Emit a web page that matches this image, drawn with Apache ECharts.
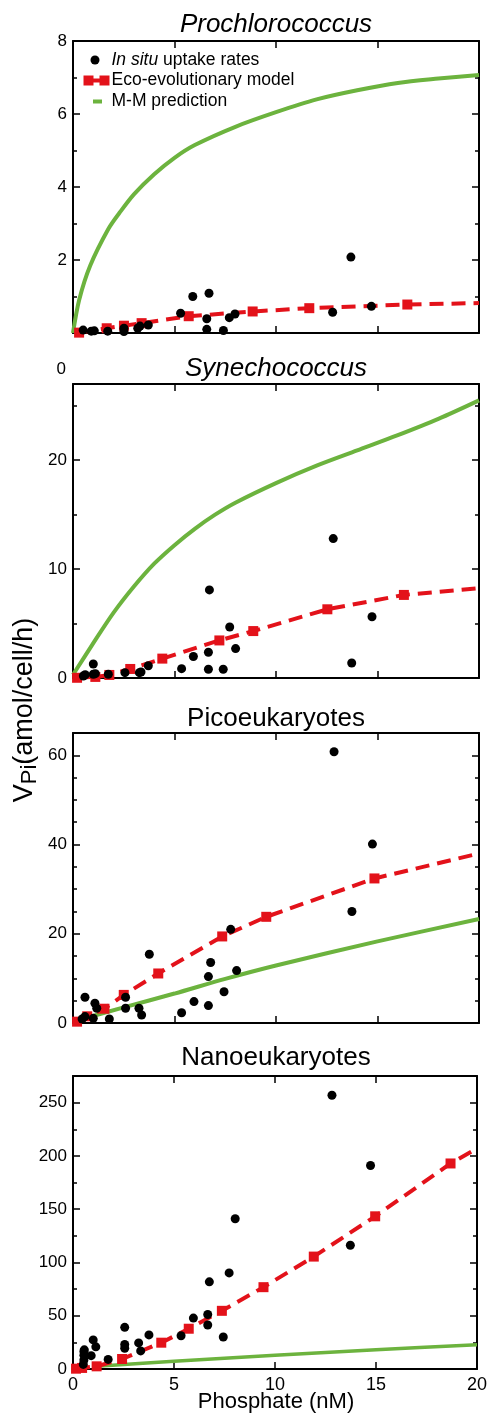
<!DOCTYPE html>
<html><head><meta charset="utf-8">
<script src="https://cdn.jsdelivr.net/npm/echarts@6/dist/echarts.min.js"></script>
<style>html,body{margin:0;padding:0;background:#fff}#c{width:490px;height:1415px}</style>
</head><body><div id="c"></div>
<script>
const FONT = '"Liberation Sans", Arial, Helvetica, sans-serif';
const RED = '#e3121a';
const GREEN = '#6cb33e';

const panelTitles = ['Prochlorococcus', 'Synechococcus', 'Picoeukaryotes', 'Nanoeukaryotes'];
const titleItalic = [true, true, false, false];
const seriesNames = ['In situ uptake rates', 'Eco-evolutionary model', 'M-M prediction'];
const xTickValues = [0, 5, 10, 15, 20];
const yMax = [8, 27, 65, 275];
const yInterval = [2, 10, 20, 50];
const yMinorSplit = [2, 2, 4, 2];

// Prochlorococcus
const proObs = [[0.5,0.08],[0.9,0.05],[1.05,0.06],[1.71,0.05],[2.51,0.13],[2.51,0.04],[3.19,0.13],[3.3,0.19],[3.71,0.22],[5.3,0.54],[5.9,1.0],[6.7,1.09],[6.59,0.39],[6.59,0.1],[7.41,0.07],[7.7,0.42],[7.98,0.52],[12.79,0.57],[13.69,2.08],[14.7,0.73]];
const proModel = [[0.3,0.01],[1.66,0.13],[2.51,0.2],[3.38,0.27],[5.7,0.46],[8.85,0.59],[11.64,0.68],[16.47,0.78]];
const proModelEnd = [20, 0.82];
const proMM = [[0,0],[0.3,0.9],[0.85,1.85],[1.74,2.85],[2.3,3.3],[3,3.8],[4,4.35],[5,4.8],[6,5.15],[8,5.65],[10,6.05],[12,6.4],[14,6.65],[16,6.85],[18,6.97],[20,7.07]];

// Synechococcus
const synObs = [[0.51,0.18],[0.6,0.3],[1.0,0.34],[1.0,1.29],[1.1,0.4],[1.74,0.34],[2.56,0.49],[3.27,0.49],[3.35,0.55],[3.71,1.13],[5.35,0.86],[5.93,1.97],[6.67,2.37],[6.67,0.8],[6.72,8.09],[7.4,0.8],[7.72,4.68],[8.01,2.7],[12.82,12.8],[13.73,1.38],[14.73,5.63]];
const synModel = [[0.2,0.02],[1.1,0.1],[1.79,0.28],[2.82,0.83],[4.4,1.78],[7.21,3.45],[8.88,4.31],[12.53,6.31],[16.3,7.63]];
const synModelEnd = [20, 8.25];
const synMM = [[0,0.3],[1,3.2],[2,6.0],[3,8.4],[4,10.5],[5,12.2],[6,13.7],[7,15.0],[8,16.1],[10,17.9],[12,19.5],[14,20.9],[16,22.3],[18,23.8],[20,25.5]];

// Picoeukaryotes
const picoObs = [[0.45,0.9],[0.59,5.77],[0.59,1.43],[1.0,1.05],[1.08,4.42],[1.17,3.3],[1.79,0.9],[2.59,5.77],[2.59,3.3],[3.25,3.3],[3.38,1.8],[3.76,15.4],[5.35,2.3],[5.96,4.8],[6.67,3.9],[6.67,10.4],[6.78,13.55],[7.44,7.0],[7.77,21.0],[8.06,11.75],[12.86,60.8],[13.74,25.0],[14.75,40.1]];
const picoModel = [[0.2,0.3],[0.7,1.5],[1.55,3.2],[2.5,6.3],[4.2,11.1],[7.35,19.4],[9.52,23.8],[14.85,32.4]];
const picoModelEnd = [20, 38.0];
const picoMM = [[0,0.3],[2.5,3.5],[5,6.6],[7.5,9.9],[10,12.9],[15,18.3],[20,23.3]];

// Nanoeukaryotes
const nanoObs = [[0.51,4.3],[0.54,8.5],[0.54,13],[0.54,16.5],[0.56,18],[0.9,12.5],[1.0,27.3],[1.13,20.8],[1.74,9.0],[2.56,39.1],[2.56,23.0],[2.56,19.5],[3.25,24.5],[3.35,17.0],[3.76,32.0],[5.35,31.2],[5.96,47.8],[6.67,51.2],[6.67,41.3],[6.75,81.8],[7.44,30.0],[7.73,90.2],[8.03,141],[12.82,256.9],[13.73,116.1],[14.73,191]];
const nanoModel = [[0.15,0.3],[0.45,1.0],[1.17,2.5],[2.43,9.4],[4.37,24.7],[5.73,37.8],[7.37,54.6],[9.43,76.8],[11.92,105.5],[14.96,143.3],[18.69,192.9]];
const nanoModelEnd = [20, 206.9];
const nanoMM = [[1,2.3],[5,7.2],[10,12.8],[15,18.0],[20,22.8]];

const obsSets = [proObs, synObs, picoObs, nanoObs];
const modelSets = [proModel, synModel, picoModel, nanoModel];
const modelEnds = [proModelEnd, synModelEnd, picoModelEnd, nanoModelEnd];
const mmSets = [proMM, synMM, picoMM, nanoMM];

// layout
const gridTops = [41, 384, 733, 1076];
const gridHeights = [292, 294, 290, 293];
const gridLeft = 73, gridRight = 11;
const titleY = [25, 369, 719, 1058];

const axisLineStyle = { color: '#000', width: 2 };
const grids = [], xAxes = [], yAxes = [], series = [];
for (let i = 0; i < 4; i++) {
  grids.push({ left: gridLeft, right: gridRight, top: gridTops[i], height: gridHeights[i], containLabel: false });
  ['bottom', 'top'].forEach(pos => {
    xAxes.push({
      gridIndex: i, type: 'value', min: xTickValues[0], max: xTickValues[xTickValues.length - 1],
      interval: xTickValues[1] - xTickValues[0], position: pos,
      axisLine: { show: true, onZero: false, lineStyle: axisLineStyle },
      axisTick: { show: true, inside: true, length: 7, lineStyle: { color: '#000', width: 1.5 } },
      axisLabel: { show: pos === 'bottom' && i === 3, color: '#000', fontSize: 18, fontFamily: FONT, margin: 7 },
      splitLine: { show: false }
    });
  });
  ['left', 'right'].forEach(pos => {
    const iv = yInterval[i];
    yAxes.push({
      gridIndex: i, type: 'value', min: 0, max: yMax[i], interval: iv, position: pos,
      axisLine: { show: true, onZero: false, lineStyle: axisLineStyle },
      axisTick: { show: true, inside: true, length: 7, lineStyle: { color: '#000', width: 1.5 } },
      minorTick: { show: true, splitNumber: yMinorSplit[i], length: 4, lineStyle: { color: '#000', width: 1.5 } },
      axisLabel: {
        show: pos === 'left', color: '#000', fontSize: 17, fontFamily: FONT, margin: 6,
        formatter: v => (Math.abs(v % iv) < 1e-9 && !(i === 0 && v === 0)) ? String(v) : ''
      },
      splitLine: { show: false }
    });
  });
  series.push({
    type: 'line', name: seriesNames[2], xAxisIndex: 2 * i, yAxisIndex: 2 * i,
    data: mmSets[i], smooth: 0.3, symbol: 'none', z: 2,
    lineStyle: { color: GREEN, width: i === 3 ? 3.5 : 4 }
  });
  series.push({
    type: 'line', name: seriesNames[1], xAxisIndex: 2 * i, yAxisIndex: 2 * i,
    data: modelSets[i].map(p => p).concat([{ value: modelEnds[i], symbol: 'none' }]),
    symbol: 'rect', symbolSize: 10, showAllSymbol: true, clip: false, z: 3,
    itemStyle: { color: RED, opacity: 1 },
    lineStyle: { color: RED, width: 4, type: [14, 8] }
  });
  series.push({
    type: 'scatter', name: seriesNames[0], xAxisIndex: 2 * i, yAxisIndex: 2 * i,
    data: obsSets[i], symbol: 'circle', symbolSize: 9, clip: false, z: 4,
    itemStyle: { color: '#000', opacity: 1 }
  });
}

const graphics = [];
for (let i = 0; i < 4; i++) {
  graphics.push({
    type: 'text', x: 276, y: titleY[i], z: 10,
    style: { text: panelTitles[i], fontSize: 26, fontFamily: FONT, fontStyle: titleItalic[i] ? 'italic' : 'normal',
      fill: '#000', align: 'center', verticalAlign: 'middle', textAlign: 'center', textVerticalAlign: 'middle' }
  });
}
// stray zero label between panels 1 and 2
graphics.push({ type: 'text', x: 66, y: 369, z: 10,
  style: { text: '0', fontSize: 17, fontFamily: FONT, fill: '#000', align: 'right', verticalAlign: 'middle', textAlign: 'right', textVerticalAlign: 'middle' } });
// y axis name
graphics.push({ type: 'text', x: 25, y: 710, rotation: Math.PI / 2, z: 10,
  style: { text: '{a|V}{b|Pi}{a|(amol/cell/h)}', fontFamily: FONT, fontSize: 27, fill: '#000',
    align: 'center', verticalAlign: 'middle', textAlign: 'center', textVerticalAlign: 'middle',
    rich: { a: { fontSize: 27, fontFamily: FONT, lineHeight: 32, fill: '#000' },
            b: { fontSize: 22, fontFamily: FONT, lineHeight: 19, verticalAlign: 'bottom', fill: '#000' } } } });
// x axis name
graphics.push({ type: 'text', x: 276, y: 1402, z: 10,
  style: { text: 'Phosphate (nM)', fontSize: 22, fontFamily: FONT, fill: '#000', align: 'center', verticalAlign: 'middle', textAlign: 'center', textVerticalAlign: 'middle' } });
// legend
const legY = [60, 80.5, 101.5];
graphics.push({ type: 'circle', shape: { cx: 95, cy: legY[0], r: 4.5 }, style: { fill: '#000' }, z: 10 });
graphics.push({ type: 'line', shape: { x1: 86, y1: legY[1], x2: 108, y2: legY[1] }, style: { stroke: RED, lineWidth: 4 }, z: 10 });
graphics.push({ type: 'rect', shape: { x: 83.5, y: legY[1] - 5, width: 10, height: 10 }, style: { fill: RED }, z: 10 });
graphics.push({ type: 'rect', shape: { x: 99.5, y: legY[1] - 5, width: 10, height: 10 }, style: { fill: RED }, z: 10 });
graphics.push({ type: 'line', shape: { x1: 93, y1: legY[2], x2: 102, y2: legY[2] }, style: { stroke: GREEN, lineWidth: 4 }, z: 10 });
const legTexts = ['{i|In situ} uptake rates', seriesNames[1], seriesNames[2]];
legTexts.forEach((t, k) => {
  graphics.push({ type: 'text', x: 111.5, y: legY[k], z: 10,
    style: { text: t, fontSize: 17.5, fontFamily: FONT, fill: '#000', align: 'left', verticalAlign: 'middle', textAlign: 'left', textVerticalAlign: 'middle',
      rich: { i: { fontStyle: 'italic', fontSize: 17.5, fontFamily: FONT, fill: '#000' } } } });
});

const chart = echarts.init(document.getElementById('c'), null, { renderer: 'canvas' });
chart.setOption({
  animation: false,
  backgroundColor: '#fff',
  textStyle: { fontFamily: FONT },
  grid: grids, xAxis: xAxes, yAxis: yAxes, series: series,
  graphic: { elements: graphics }
});
</script></body></html>
